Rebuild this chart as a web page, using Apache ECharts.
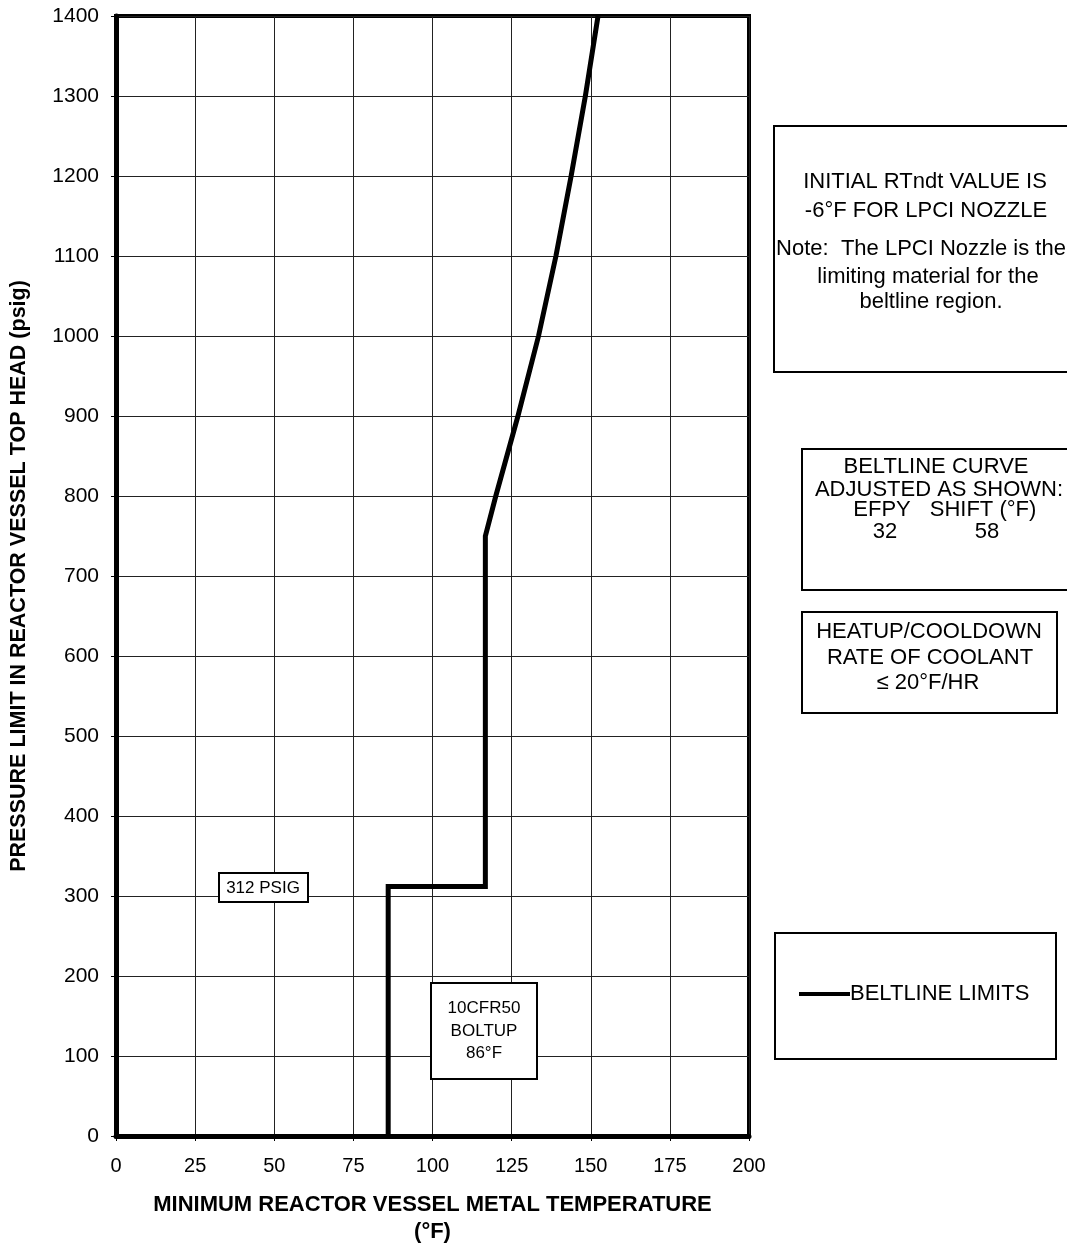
<!DOCTYPE html>
<html>
<head>
<meta charset="utf-8">
<script src="https://cdn.jsdelivr.net/npm/echarts@6/dist/echarts.min.js"></script>
<style>
  html, body { margin: 0; padding: 0; background: #fff; }
  #chart { width: 1067px; height: 1250px; }
</style>
</head>
<body>
<div id="chart"></div>
<script>
// Beltline P-T limit curve (temperature in °F, pressure in psig)
const temps     = [86, 86, 116.7, 116.7, 120, 127, 133.5, 139, 143.8, 148.3, 152.3];
const pressures = [0, 312, 312, 750, 800, 900, 1000, 1100, 1200, 1300, 1400];

// Axis ranges and tick spacing
const xTicks = { min: 0, max: 200, interval: 25 };
const yTicks = { min: 0, max: 1400, interval: 100 };

// Text content
const seriesName = 'BELTLINE LIMITS';
const xTitle = 'MINIMUM REACTOR VESSEL METAL TEMPERATURE\n(°F)';
const yTitle = 'PRESSURE LIMIT IN REACTOR VESSEL TOP HEAD (psig)';
const noteLines = ['INITIAL RTndt VALUE IS', '-6°F FOR LPCI NOZZLE', 'Note:  The LPCI Nozzle is the', 'limiting material for the', 'beltline region.'];
const shiftLines = ['BELTLINE CURVE', 'ADJUSTED AS SHOWN:'];
const shiftHeader = ['EFPY', 'SHIFT (°F)'];
const shiftValues = ['32', '58'];
const rateLines = ['HEATUP/COOLDOWN', 'RATE OF COOLANT', '≤ 20°F/HR'];
const pressLabel = '312 PSIG';
const boltupLines = ['10CFR50', 'BOLTUP', '86°F'];

const FONT = '"Liberation Sans", Arial, Helvetica, sans-serif';

function txt(text, x, y, size, extra) {
  return Object.assign({
    type: 'text', z: 20,
    style: { text: text, x: x, y: y, fill: '#000', font: size + 'px ' + FONT, align: 'center', verticalAlign: 'middle' }
  }, extra || {});
}
function box(x, y, w, h) {
  return { type: 'rect', z: 15, shape: { x: x, y: y, width: w, height: h }, style: { fill: '#fff', stroke: '#000', lineWidth: 2 } };
}

const chart = echarts.init(document.getElementById('chart'), null, { renderer: 'canvas' });

const graphics = [
  // note box
  box(774, 126, 320, 246),
  txt(noteLines[0], 925, 182, 22),
  txt(noteLines[1], 926, 211, 22),
  txt(noteLines[2], 921, 249, 22),
  txt(noteLines[3], 928, 277, 22),
  txt(noteLines[4], 931, 302, 22),
  // shift box
  box(802, 449, 300, 141),
  txt(shiftLines[0], 936, 467, 22),
  txt(shiftLines[1], 939, 490, 22),
  txt(shiftHeader[0], 882, 510, 22),
  txt(shiftHeader[1], 983, 510, 22),
  txt(shiftValues[0], 885, 532, 22),
  txt(shiftValues[1], 987, 532, 22),
  // rate box
  box(802, 612, 255, 101),
  txt(rateLines[0], 929, 632, 22),
  txt(rateLines[1], 930, 658, 22),
  txt(rateLines[2], 928, 683, 22),
  // legend box
  box(775, 933, 281, 126),
  // annotations inside the plot
  box(219, 873, 89, 29),
  txt(pressLabel, 263, 888, 17),
  box(431, 983, 106, 96),
  txt(boltupLines[0], 484, 1008, 17),
  txt(boltupLines[1], 484, 1031, 17),
  txt(boltupLines[2], 484, 1053, 17)
];

const option = {
  animation: false,
  backgroundColor: '#fff',
  textStyle: { fontFamily: FONT, color: '#000' },
  grid: {
    left: 115, right: 318, top: 16, bottom: 113,
    show: true, borderColor: '#000', borderWidth: 4, backgroundColor: 'transparent'
  },
  legend: {
    show: true, left: 799, top: 983, padding: 0,
    icon: 'rect', itemWidth: 51, itemHeight: 4, itemGap: 0,
    textStyle: { fontFamily: FONT, fontSize: 22, color: '#000', padding: [0, 0, 0, -5] },
    data: [seriesName], z: 30
  },
  xAxis: {
    type: 'value', min: xTicks.min, max: xTicks.max, interval: xTicks.interval,
    name: xTitle, nameLocation: 'middle', nameGap: 55,
    nameTextStyle: { fontFamily: FONT, fontSize: 22, fontWeight: 'bold', color: '#000', lineHeight: 27 },
    axisLine: { show: true, onZero: false, lineStyle: { color: '#000', width: 5 } },
    axisTick: { show: true, inside: false, length: 5, lineStyle: { color: '#000', width: 1 } },
    axisLabel: { fontFamily: FONT, fontSize: 20, color: '#000', margin: 20, formatter: v => String(v) },
    splitLine: { show: true, lineStyle: { color: '#222', width: 1 } }
  },
  yAxis: {
    type: 'value', min: yTicks.min, max: yTicks.max, interval: yTicks.interval,
    name: yTitle, nameLocation: 'middle', nameGap: 86, nameRotate: 90,
    nameTextStyle: { fontFamily: FONT, fontSize: 21.5, fontWeight: 'bold', color: '#000' },
    axisLine: { show: true, onZero: false, lineStyle: { color: '#000', width: 5 } },
    axisTick: { show: true, inside: false, length: 5, lineStyle: { color: '#000', width: 1 } },
    axisLabel: { fontFamily: FONT, fontSize: 21, color: '#000', margin: 17, formatter: v => String(v) },
    splitLine: { show: true, lineStyle: { color: '#222', width: 1 } }
  },
  series: [{
    name: seriesName,
    type: 'line',
    data: temps.map((t, i) => [t, pressures[i]]),
    symbol: 'none',
    clip: true,
    z: 10,
    lineStyle: { color: '#000', width: 5, join: 'miter', cap: 'butt' },
    itemStyle: { color: '#000' }
  }],
  graphic: graphics
};

chart.setOption(option);
</script>
</body>
</html>
